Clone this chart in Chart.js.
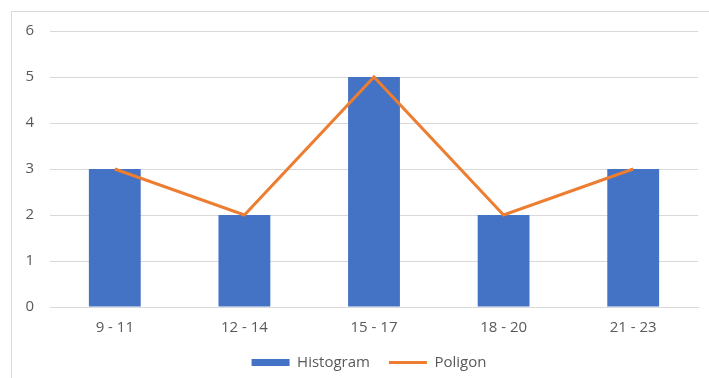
<!DOCTYPE html>
<html>
<head>
<meta charset="utf-8">
<script src="https://cdn.jsdelivr.net/npm/chart.js@4/dist/chart.umd.min.js"></script>
<style>
  html, body { margin: 0; padding: 0; background: #fff; }
  #wrap { position: relative; width: 709px; height: 378px; overflow: hidden; }
  #frame { position: absolute; left: 11px; top: 11px; width: 720px; height: 400px;
           border: 1px solid #d9d9d9; box-sizing: border-box; }
  canvas { position: absolute; left: 0; top: 0; }
</style>
</head>
<body>
<div id="wrap">
  <div id="frame"></div>
  <canvas id="c" width="709" height="378"></canvas>
</div>
<script>
const categories = ['9 - 11', '12 - 14', '15 - 17', '18 - 20', '21 - 23'];
const histogramValues = [3, 2, 5, 2, 3];
const poligonValues = [3, 2, 5, 2, 3];
const yTicks = [0, 1, 2, 3, 4, 5, 6];

const textColor = '#595959';
const font = { family: '"Open Sans", sans-serif', size: 15 };

// nudges the legend row sideways after layout
const legendShift = {
  id: 'legendShift',
  afterLayout(chart) {
    const lg = chart.legend;
    if (lg) { lg.left += 14; lg.right += 14; }
  }
};

new Chart(document.getElementById('c'), {
  data: {
    labels: categories,
    datasets: [
      {
        type: 'line',
        label: 'Poligon',
        data: poligonValues,
        borderColor: '#ED7D31',
        backgroundColor: '#ED7D31',
        borderWidth: 3,
        pointRadius: 0,
        tension: 0,
        order: 0
      },
      {
        type: 'bar',
        label: 'Histogram',
        data: histogramValues,
        backgroundColor: '#4472C4',
        borderWidth: 0,
        categoryPercentage: 1,
        barPercentage: 0.4,
        order: 1
      }
    ]
  },
  plugins: [legendShift],
  options: {
    responsive: false,
    animation: false,
    layout: { padding: { left: 12, right: 11, top: 31, bottom: -2 } },
    plugins: {
      tooltip: { enabled: false },
      legend: {
        position: 'bottom',
        reverse: true,
        labels: {
          color: textColor,
          font: font,
          usePointStyle: true,
          boxWidth: 38,
          boxHeight: 7,
          pointStyleWidth: 38,
          padding: 19,
          generateLabels(chart) {
            const items = Chart.defaults.plugins.legend.labels.generateLabels(chart);
            items.forEach(it => {
              const ds = chart.data.datasets[it.datasetIndex];
              if (ds.type === 'bar') {
                it.pointStyle = 'rect';
                it.lineWidth = 0;
                it.fillStyle = ds.backgroundColor;
                it.strokeStyle = ds.backgroundColor;
              } else {
                it.pointStyle = 'line';
                it.lineWidth = 3;
                it.strokeStyle = ds.borderColor;
              }
            });
            return items;
          }
        }
      }
    },
    scales: {
      x: {
        afterFit(scale) { scale.height = 29; },
        grid: { display: false, drawTicks: false },
        border: { display: true, color: '#d9d9d9', width: 1 },
        ticks: { color: textColor, font: font, padding: 12 }
      },
      y: {
        min: 0,
        max: 6,
        afterBuildTicks(scale) { scale.ticks = yTicks.map(v => ({ value: v })); },
        afterFit(scale) { scale.width = 38; },
        grid: { color: '#d9d9d9', lineWidth: 1, drawTicks: false },
        border: { display: false },
        ticks: { color: textColor, font: font, padding: 16 }
      }
    }
  }
});
</script>
</body>
</html>
